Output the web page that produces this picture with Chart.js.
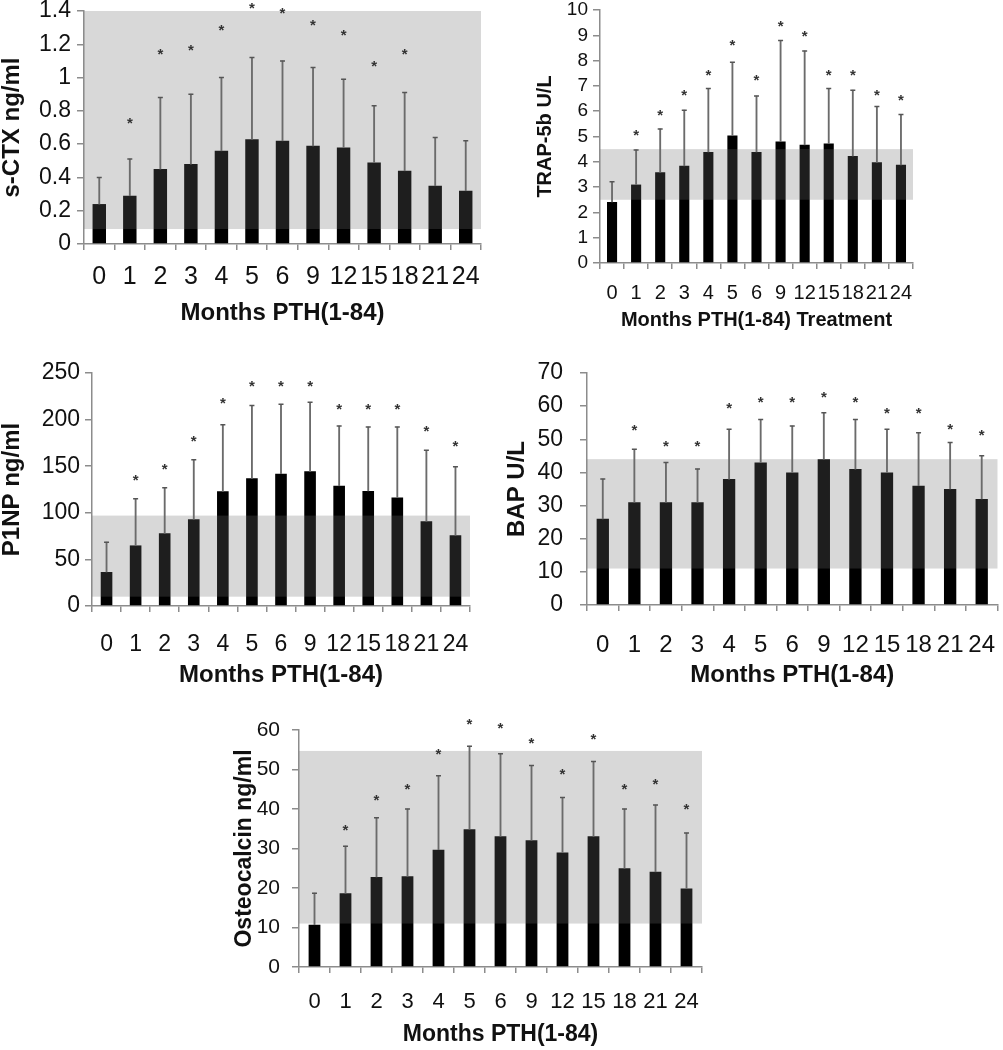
<!DOCTYPE html>
<html>
<head>
<meta charset="utf-8">
<script src="https://cdn.jsdelivr.net/npm/chart.js@4.4.1/dist/chart.umd.min.js"></script>
<style>
  html, body { margin: 0; padding: 0; background: #fff; }
  #page { position: relative; width: 1003px; height: 1050px; overflow: hidden; }
  #page canvas { position: absolute; }
</style>
</head>
<body>
<div id="page">
  <canvas id="ctxChart"></canvas>
  <canvas id="trapChart"></canvas>
  <canvas id="p1npChart"></canvas>
  <canvas id="bapChart"></canvas>
  <canvas id="ocChart"></canvas>
</div>
<script>
// months of PTH(1-84) treatment
const months = ["0", "1", "2", "3", "4", "5", "6", "9", "12", "15", "18", "21", "24"];

// s-CTX ng/ml
const ctxMean = [0.24, 0.29, 0.45, 0.48, 0.56, 0.63, 0.62, 0.59, 0.58, 0.49, 0.44, 0.35, 0.32];
const ctxUpper = [0.40, 0.51, 0.88, 0.90, 1.00, 1.12, 1.10, 1.06, 0.99, 0.83, 0.91, 0.64, 0.62];
const ctxStars = [null, 0.75, 1.16, 1.19, 1.31, 1.44, 1.41, 1.34, 1.28, 1.09, 1.16, null, null];
const ctxNormal = [0.09, 1.4];

// TRAP-5b U/L
const trapMean = [2.41, 3.10, 3.59, 3.84, 4.39, 5.04, 4.39, 4.80, 4.67, 4.72, 4.23, 3.98, 3.88];
const trapUpper = [3.21, 4.47, 5.30, 6.04, 6.90, 7.93, 6.60, 8.79, 8.38, 6.90, 6.83, 6.19, 5.87];
const trapStars = [null, 5.21, 6.0, 6.79, 7.59, 8.75, 7.36, 9.51, 9.12, 7.56, 7.56, 6.79, 6.57];
const trapNormal = [2.5, 4.5];

// P1NP ng/ml
const p1npMean = [36.5, 65, 78, 93, 123, 137, 142, 144.5, 129, 123.5, 116.5, 91, 76];
const p1npUpper = [68.5, 115, 127, 157, 194.5, 215, 216.5, 218.5, 193, 192, 192, 167, 149.5];
const p1npStars = [null, 139.5, 151, 180.5, 221.5, 239.5, 239.5, 239.5, 215.5, 215.5, 215.5, 192, 175];
const p1npNormal = [10, 97];

// BAP U/L
const bapMean = [26, 31, 31, 31, 38, 43, 40, 44, 41, 40, 36, 35, 32];
const bapUpper = [38, 47, 43, 41, 53, 56, 54, 58, 56, 53, 52, 49, 45];
const bapStars = [null, 54, 49, 49, 60.6, 62.2, 62.2, 63.9, 62.2, 58.9, 58.9, 54.1, 52.4];
const bapNormal = [11, 44];

// Osteocalcin ng/ml
const ocMean = [10.7, 18.7, 22.8, 23, 29.7, 34.9, 33.1, 32.1, 29, 33.1, 25, 24.1, 19.9];
const ocUpper = [18.7, 30.6, 37.8, 40, 48.4, 55.9, 54, 51, 42.9, 52, 40, 41, 33.9];
const ocStars = [null, 35.5, 43.3, 45.9, 54.8, 62.5, 61.3, 57.5, 49.7, 58.7, 45.9, 47.2, 40.8];
const ocNormal = [11, 54.7];

const FONT = "'Liberation Sans', Arial, sans-serif";
const AXIS = "#8c8c8c";
const TEXT = "#111";

// grey reference range laid over the bars (bars show darker inside it)
const normalBand = {
  id: "normalBand",
  afterDatasetDraw(chart, args, opts) {
    if (args.index !== 0 || !opts.range) return;
    const { ctx, chartArea, scales } = chart;
    const yTop = scales.y.getPixelForValue(opts.range[1]);
    const yBot = scales.y.getPixelForValue(opts.range[0]);
    ctx.save();
    ctx.fillStyle = "rgba(112,112,112,0.27)";
    ctx.fillRect(chartArea.left, yTop, chartArea.right - chartArea.left, yBot - yTop);
    ctx.restore();
  }
};

// significance asterisks, written as text (some sit above the top of the axis)
const starMarks = {
  id: "starMarks",
  afterDatasetsDraw(chart, args, opts) {
    if (!opts.values) return;
    const { ctx, scales } = chart;
    const size = 15;
    ctx.save();
    ctx.font = "bold " + size + "px " + FONT;
    ctx.fillStyle = "#333";
    ctx.textAlign = "center";
    ctx.textBaseline = "alphabetic";
    opts.values.forEach((v, i) => {
      if (v == null) return;
      const x = scales.x.getPixelForValue(i);
      const y = scales.y.getPixelForValue(v);
      ctx.fillText("*", x, y + size * 0.57);
    });
    ctx.restore();
  }
};

function makePanel(id, box, plot, lab, mean, upper, stars, band, yMax, yStep, yTitle, xTitle) {
  const canvas = document.getElementById(id);
  canvas.width = box.w;
  canvas.height = box.h;
  canvas.style.left = box.x + "px";
  canvas.style.top = box.y + "px";

  const yTickLen = 7, xTickLen = 6;

  new Chart(canvas, {
    data: {
      labels: months,
      datasets: [
        { type: "bar", data: mean, backgroundColor: "#000", barPercentage: lab.bar, categoryPercentage: 1, grouped: false, order: 2 },
        // error bar stems (mean -> upper)
        { type: "bar", data: mean.map((m, i) => [m, upper[i]]), backgroundColor: "#6b6b6b", barThickness: 1.2, grouped: false, order: 1 },
        // caps
        { type: "line", data: upper, showLine: false, pointStyle: "line", pointRadius: 2.5, borderColor: "#555", borderWidth: 1.5, order: 0 }
      ]
    },
    options: {
      responsive: false,
      animation: false,
      events: [],
      layout: { padding: { left: 0, top: plot.top - box.y, right: box.x + box.w - plot.right, bottom: 0 } },
      plugins: {
        legend: { display: false },
        tooltip: { enabled: false },
        normalBand: { range: band },
        starMarks: { values: stars }
      },
      scales: {
        x: {
          grid: { drawOnChartArea: false, tickLength: xTickLen, color: AXIS, lineWidth: 1.5 },
          border: { color: AXIS, width: 1.5 },
          ticks: {
            autoSkip: false, maxRotation: 0, minRotation: 0, color: TEXT,
            font: { family: FONT, size: lab.xTick, lineHeight: 1 },
            padding: lab.xLabelY - plot.bottom - xTickLen - lab.xTick / 2
          },
          title: {
            display: true, text: xTitle, color: TEXT,
            font: { family: FONT, size: lab.title, weight: "bold", lineHeight: 1 },
            padding: { top: 0, bottom: box.y + box.h - lab.xTitleY - lab.title / 2 }
          },
          afterFit(scale) {
            scale.height = box.y + box.h - plot.bottom;
            scale.paddingLeft = 0;
            scale.paddingRight = 0;
          }
        },
        y: {
          min: 0, max: yMax,
          grid: { drawOnChartArea: false, tickLength: yTickLen, color: AXIS, lineWidth: 1.5 },
          border: { color: AXIS, width: 1.5 },
          ticks: {
            stepSize: yStep, color: TEXT,
            font: { family: FONT, size: lab.yTick, lineHeight: 1 },
            padding: plot.left - yTickLen - lab.yTickRight,
            callback: (v) => String(Number(v.toFixed(2)))
          },
          title: {
            display: true, text: yTitle, color: TEXT,
            font: { family: FONT, size: lab.title, weight: "bold", lineHeight: 1 },
            padding: { top: lab.yTitleX - box.x - lab.title / 2, bottom: 0 }
          },
          afterFit(scale) {
            scale.width = plot.left - box.x;
            scale.paddingTop = 0;
            scale.paddingBottom = 0;
          }
        }
      }
    },
    plugins: [normalBand, starMarks]
  });
}

makePanel("ctxChart",
  { x: 0, y: 0, w: 490, h: 330 }, { left: 84, top: 11, right: 481, bottom: 244 },
  { yTick: 23, xTick: 25, title: 24, bar: 0.44, yTickRight: 71, xLabelY: 277, xTitleY: 313, yTitleX: 12 },
  ctxMean, ctxUpper, ctxStars, ctxNormal, 1.4, 0.2, "s-CTX ng/ml", "Months PTH(1-84)");

makePanel("trapChart",
  { x: 510, y: 0, w: 493, h: 330 }, { left: 600, top: 10, right: 913, bottom: 263 },
  { yTick: 19, xTick: 20, title: 20, bar: 0.42, yTickRight: 588, xLabelY: 293, xTitleY: 320, yTitleX: 545 },
  trapMean, trapUpper, trapStars, trapNormal, 10, 1, "TRAP-5b U/L", "Months PTH(1-84) Treatment");

makePanel("p1npChart",
  { x: 0, y: 340, w: 490, h: 350 }, { left: 92, top: 373, right: 470, bottom: 606 },
  { yTick: 23, xTick: 23, title: 24, bar: 0.40, yTickRight: 80, xLabelY: 645, xTitleY: 675, yTitleX: 12 },
  p1npMean, p1npUpper, p1npStars, p1npNormal, 250, 50, "P1NP ng/ml", "Months PTH(1-84)");

makePanel("bapChart",
  { x: 500, y: 340, w: 503, h: 350 }, { left: 587, top: 373, right: 998, bottom: 605 },
  { yTick: 23, xTick: 24, title: 24, bar: 0.39, yTickRight: 563, xLabelY: 645, xTitleY: 675, yTitleX: 517 },
  bapMean, bapUpper, bapStars, bapNormal, 70, 10, "BAP U/L", "Months PTH(1-84)");

makePanel("ocChart",
  { x: 210, y: 690, w: 510, h: 360 }, { left: 299, top: 730, right: 702, bottom: 967 },
  { yTick: 21, xTick: 22, title: 23, bar: 0.38, yTickRight: 280, xLabelY: 1002, xTitleY: 1035, yTitleX: 245 },
  ocMean, ocUpper, ocStars, ocNormal, 60, 10, "Osteocalcin ng/ml", "Months PTH(1-84)");
</script>
</body>
</html>
